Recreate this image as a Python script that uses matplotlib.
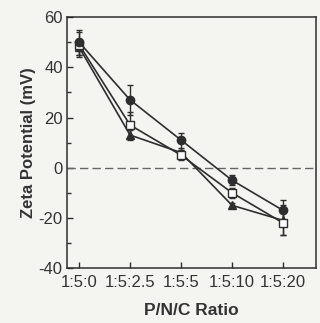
import numpy as np
import matplotlib
matplotlib.use("Agg")
import matplotlib.pyplot as plt

plt.rcParams["font.family"] = ["Liberation Sans", "DejaVu Sans"]
plt.rcParams["axes.unicode_minus"] = False

ratios = ["1:5:0", "1:5:2.5", "1:5:5", "1:5:10", "1:5:20"]

circle_vals = [50, 27, 11, -5, -17]
circle_err = [5, 6, 3, 2, 4]
square_vals = [49, 17, 5, -10, -22]
square_err = [5, 5, 2, 2, 5]
tri_vals = [48, 13, 6, -15, -21]
tri_err = [3, 2, 1, 1, 6]

ink = "#2e2e2e"
bg = "#f4f4f1"

fig = plt.figure(figsize=(3.2, 3.23), dpi=100, facecolor=bg)
ax = fig.add_axes([0.209, 0.170, 0.779, 0.777], facecolor=bg)

x = np.arange(len(ratios))
ax.axhline(0, color="#666666", lw=1.0, ls=(0, (6, 3)))

ax.errorbar(x, tri_vals, yerr=tri_err, color=ink, marker="^", ms=6,
            mfc=ink, mec=ink, lw=1.2, capsize=2.5, elinewidth=1)
ax.errorbar(x, square_vals, yerr=square_err, color=ink, marker="s", ms=5.5,
            mfc="white", mec=ink, lw=1.2, capsize=2.5, elinewidth=1)
ax.errorbar(x, circle_vals, yerr=circle_err, color=ink, marker="o", ms=6,
            mfc=ink, mec=ink, lw=1.2, capsize=2.5, elinewidth=1)

ax.set_xlim(-0.24, 4.65)
ax.set_ylim(-40, 60)
ax.set_xticks(x)
ax.set_xticklabels(ratios)
ax.set_yticks([-40, -20, 0, 20, 40, 60])
ax.set_yticks([-30, -10, 10, 30, 50], minor=True)
ax.tick_params(direction="in", colors=ink, labelsize=12, length=4, width=1,
               pad=3)
ax.tick_params(axis="x", pad=5)
ax.tick_params(which="minor", direction="in", length=3, width=1, colors=ink)
for lab in ax.get_xticklabels() + ax.get_yticklabels():
    lab.set_color("#333333")
for s in ax.spines.values():
    s.set_color(ink)
    s.set_linewidth(1.1)

ax.set_ylabel("Zeta Potential (mV)", fontsize=12, fontweight="bold",
              color="#333333", labelpad=2)
ax.set_xlabel("P/N/C Ratio", fontsize=12.5, fontweight="bold",
              color="#333333", labelpad=9)

fig.savefig("out.png", dpi=100, facecolor=bg)
